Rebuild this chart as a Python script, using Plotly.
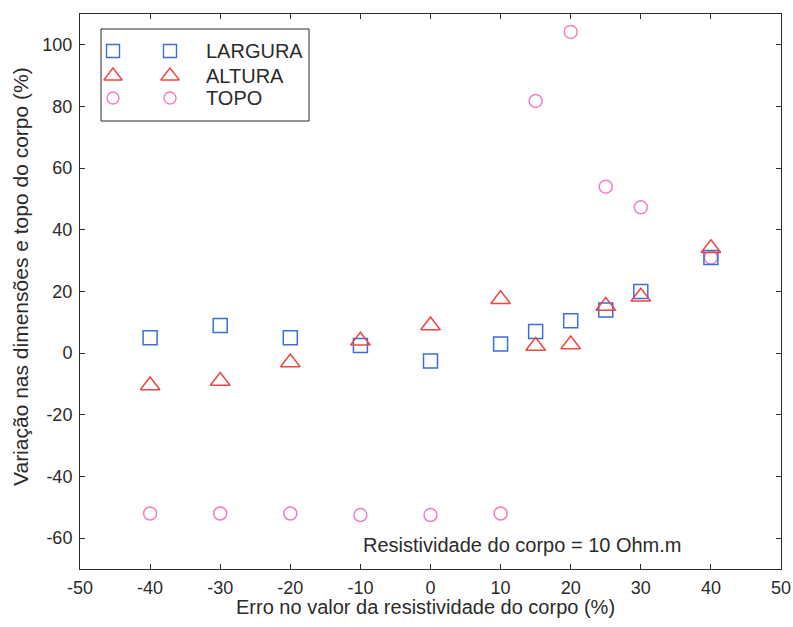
import plotly.graph_objects as go

# Error in the body's resistivity value (%)
erro = [-40, -30, -20, -10, 0, 10, 15, 20, 25, 30, 40]

# Variation of the body's width, height and top depth (%)
largura = [5, 9, 5, 2.5, -2.5, 3, 7, 10.5, 14, 20, 31]
altura = [-10.5, -9, -3, 4, 9, 17.5, 2.3, 2.8, 15.3, 18.3, 34]
topo = [-52, -52, -52, -52.5, -52.5, -52, 81.8, 104.2, 54, 47.3, 31]

series_names = ["LARGURA", "ALTURA", "TOPO"]
series_values = [largura, altura, topo]

x_ticks = list(range(-50, 51, 10))
y_ticks = list(range(-60, 101, 20))
x_ticktext = [str(v) for v in x_ticks]
y_ticktext = [str(v) for v in y_ticks]

BLUE = "#3a6ed8"
RED = "#ee4640"
PINK = "#f07ec4"
styles = [
    dict(symbol="square-open", size=14, color=BLUE),
    dict(symbol="triangle-up-open", size=17, color=RED),
    dict(symbol="circle-open", size=13, color=PINK),
]

FONT = "Liberation Sans, Arial, sans-serif"
AX = "#2b2b2b"
TEXT_SIZE = 20

W, H = 793, 627
ML, MR, MT, MB = 80, 12, 14, 58
PX0, PX1 = ML, W - MR
PY0, PY1 = MT, H - MB


def px_to_paper(px, py):
    """Pixel position in the page -> paper coordinates of the plot area."""
    return (px - PX0) / (PX1 - PX0), (PY1 - py) / (PY1 - PY0)


fig = go.Figure()

# TOPO is drawn first so the other series sit on top where they coincide
draw_order = [2, 0, 1]
for i in draw_order:
    st = styles[i]
    fig.add_trace(go.Scatter(
        x=erro, y=series_values[i], mode="markers", name=series_names[i],
        showlegend=False,
        marker=dict(symbol=st["symbol"], size=st["size"], color=st["color"],
                    line=dict(width=1.5, color=st["color"])),
    ))

# Boxed legend (two sample markers per entry) on a pixel-scaled overlay axis
leg_box = dict(x0=101, x1=309, y0=29, y1=121)
leg_rows = [51, 76, 98]
leg_cols = [113, 170]
leg_text_x = 204
for name, st, ry in zip(series_names, styles, leg_rows):
    fig.add_trace(go.Scatter(
        x=leg_cols, y=[ry, ry], xaxis="x2", yaxis="y2", mode="markers",
        showlegend=False, hoverinfo="skip",
        marker=dict(symbol=st["symbol"], size=st["size"] - 1, color=st["color"],
                    line=dict(width=1.4, color=st["color"])),
    ))
    fig.add_annotation(x=leg_text_x, y=ry, xref="x2", yref="y2", text=name,
                       showarrow=False, xanchor="left", yanchor="middle",
                       font=dict(family=FONT, size=TEXT_SIZE, color=AX))
fig.add_shape(type="rect", xref="x2", yref="y2", line=dict(color=AX, width=1),
              fillcolor="rgba(0,0,0,0)", **leg_box)

# Note inside the plot area
fig.add_annotation(x=361, y=545, xref="x2", yref="y2",
                   text="Resistividade do corpo = 10 Ohm.m", showarrow=False,
                   xanchor="left", yanchor="middle",
                   font=dict(family=FONT, size=TEXT_SIZE, color=AX))

# Axis titles (paper coordinates, so they may sit outside the plot area)
tx, ty = px_to_paper(425, 607)
fig.add_annotation(x=tx, y=ty, xref="paper", yref="paper",
                   text="Erro no valor da resistividade do corpo (%)",
                   showarrow=False, xanchor="center", yanchor="middle",
                   font=dict(family=FONT, size=TEXT_SIZE, color=AX))
tx, ty = px_to_paper(20, 277)
fig.add_annotation(x=tx, y=ty, xref="paper", yref="paper",
                   text="Variação nas dimensões e topo do corpo (%)",
                   showarrow=False, xanchor="center", yanchor="middle",
                   textangle=-90,
                   font=dict(family=FONT, size=21, color=AX))

axis_common = dict(
    showgrid=False, zeroline=False, showline=True, linecolor=AX, linewidth=1,
    mirror="ticks", ticks="inside", ticklen=5, tickcolor=AX, tickwidth=1,
    tickfont=dict(family=FONT, size=18, color=AX), automargin=False,
)

fig.update_layout(
    width=W, height=H,
    margin=dict(l=ML, r=MR, t=MT, b=MB, pad=0),
    paper_bgcolor="white", plot_bgcolor="white",
    showlegend=False,
    xaxis=dict(range=[-50, 50], tickvals=x_ticks, ticktext=x_ticktext,
               ticklabelstandoff=2, **axis_common),
    yaxis=dict(range=[-70, 110], tickvals=y_ticks, ticktext=y_ticktext,
               ticklabelstandoff=3, **axis_common),
    xaxis2=dict(range=[PX0, PX1], overlaying="x", visible=False,
                domain=[0, 1]),
    yaxis2=dict(range=[PY1, PY0], overlaying="y", visible=False,
                domain=[0, 1]),
)

fig.write_html("out.html")
